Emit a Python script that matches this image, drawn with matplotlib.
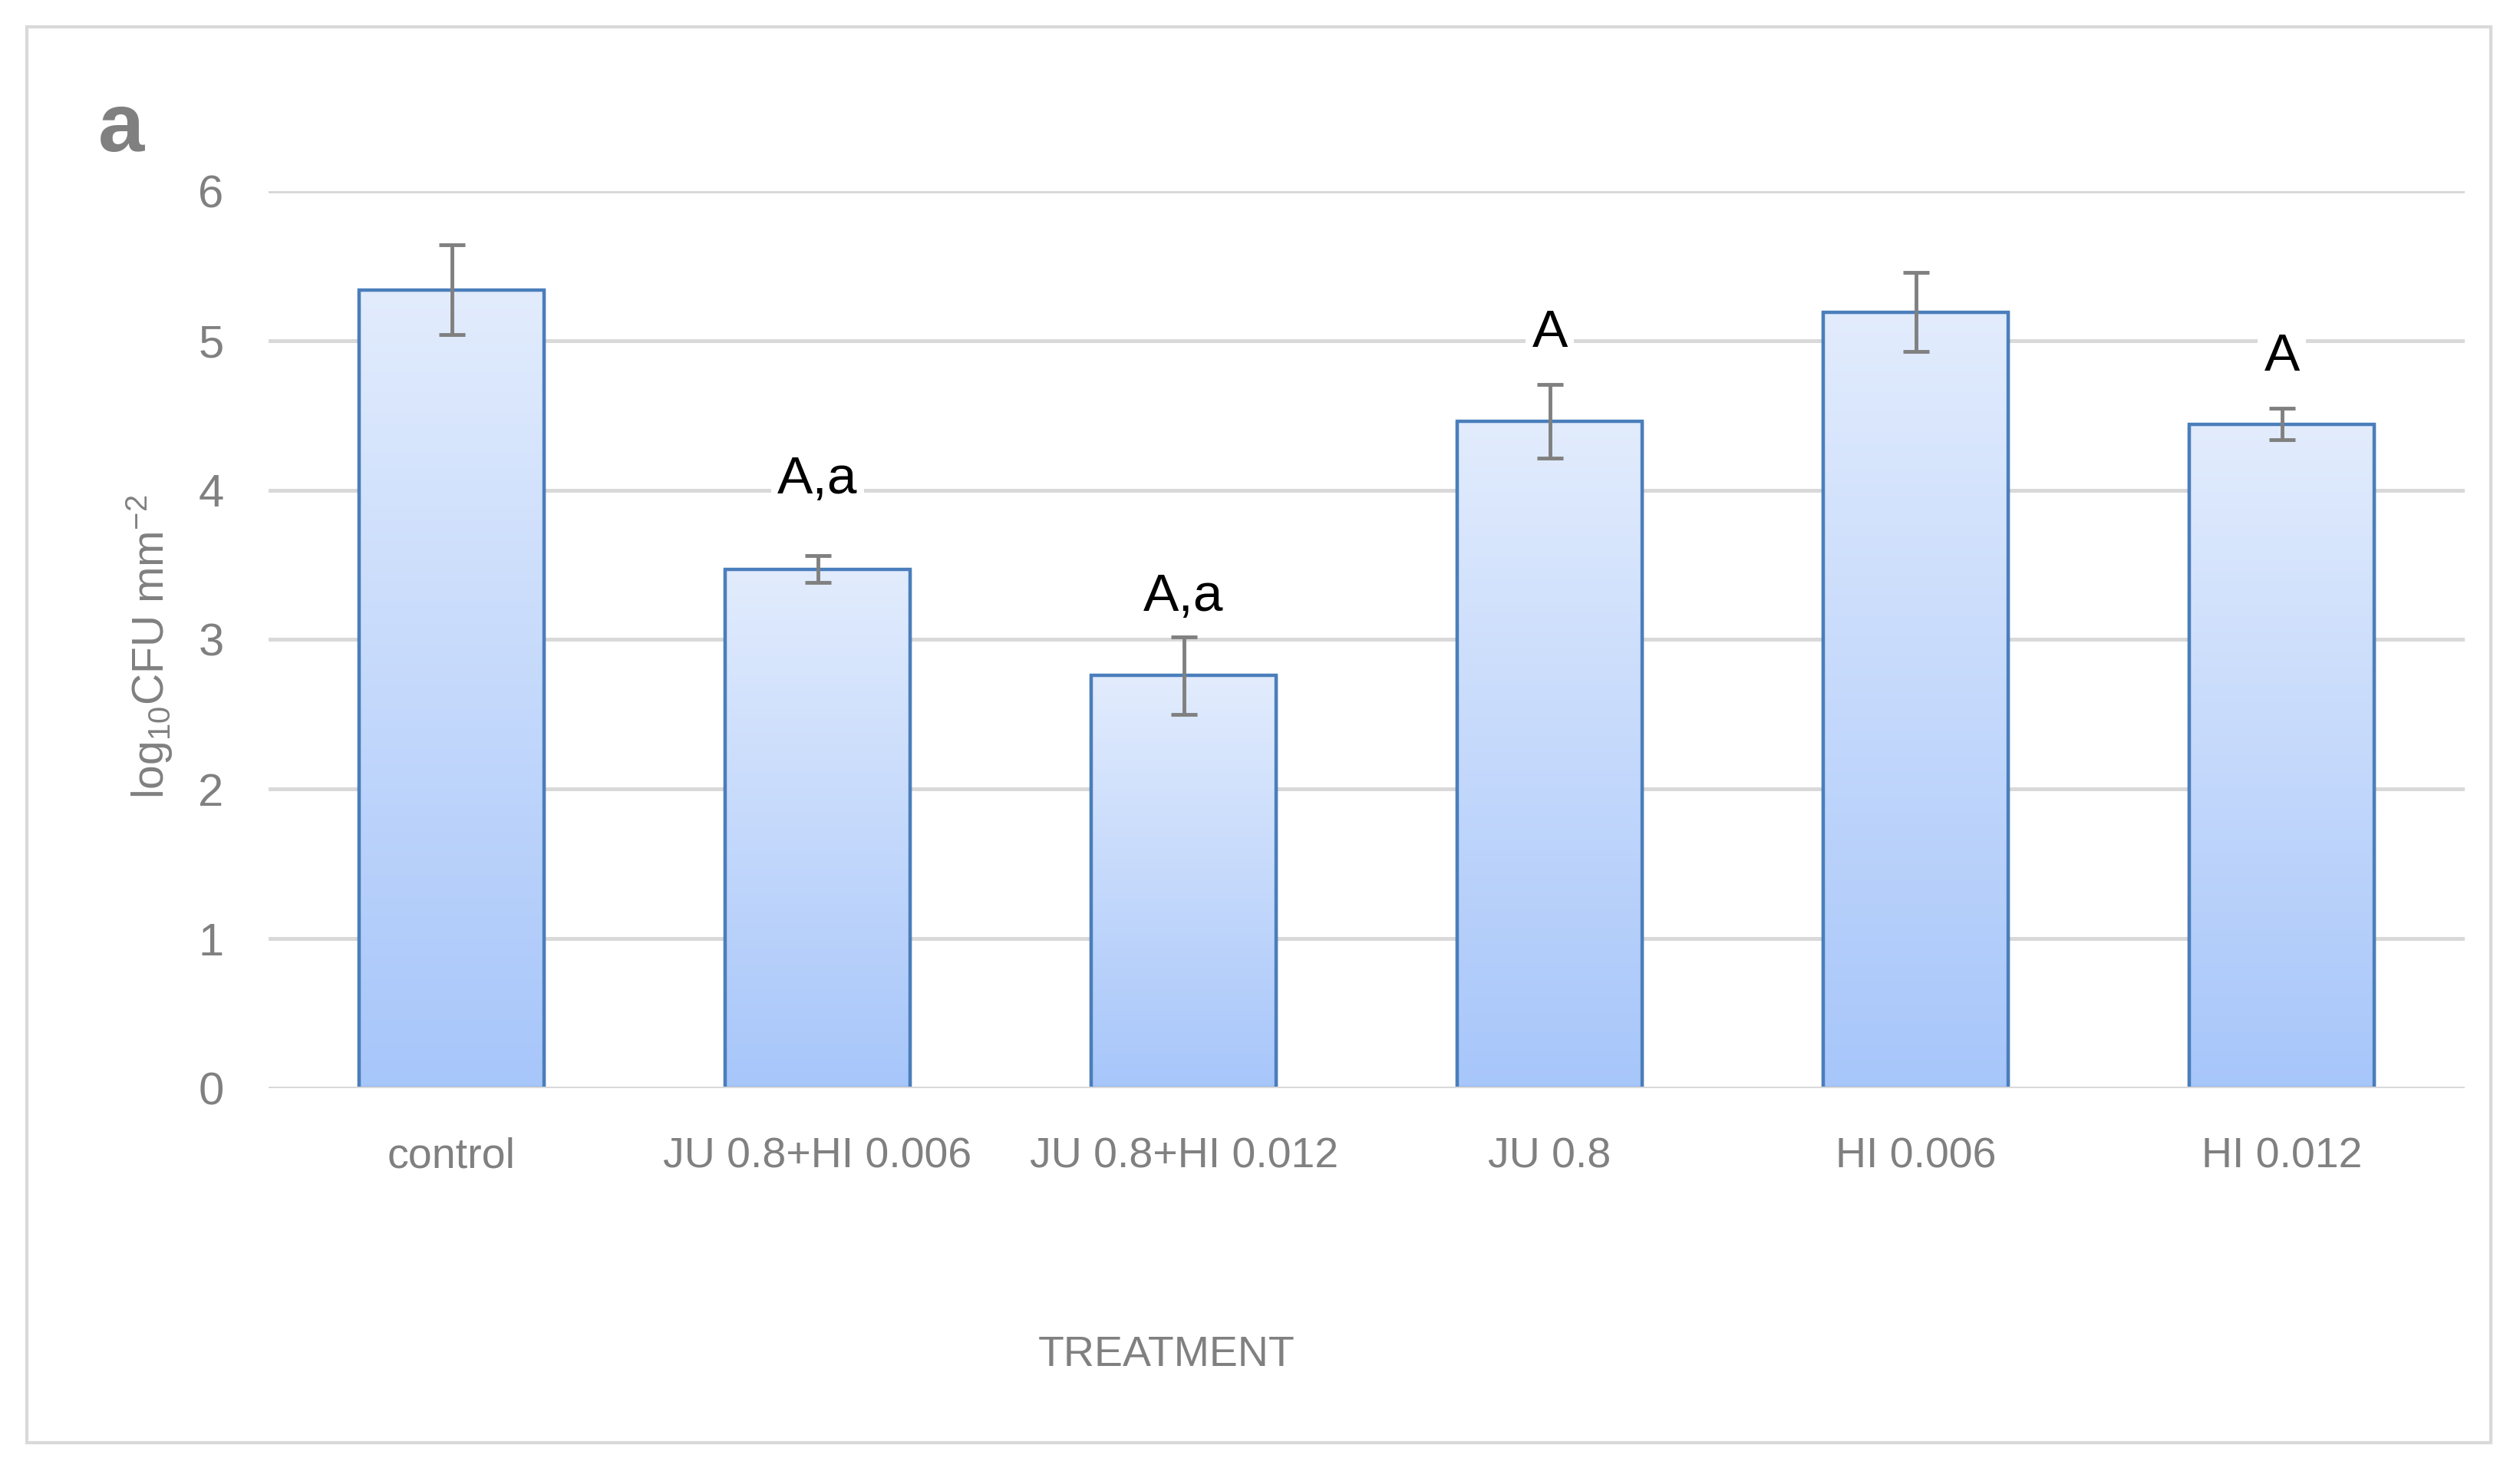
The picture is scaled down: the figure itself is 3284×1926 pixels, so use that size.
import numpy as np
import matplotlib
matplotlib.use('Agg')
import matplotlib.pyplot as plt
from matplotlib.patches import Rectangle

plt.rcParams['font.family'] = ['Liberation Sans Narrow', 'Liberation Sans', 'DejaVu Sans']
plt.rcParams['mathtext.default'] = 'regular'

# data
treatments = ['control', 'JU 0.8+HI 0.006', 'JU 0.8+HI 0.012', 'JU 0.8', 'HI 0.006', 'HI 0.012']
means = [5.34, 3.47, 2.76, 4.46, 5.19, 4.44]
errors = [0.30, 0.09, 0.26, 0.245, 0.265, 0.105]
letters = ['', 'A,a', 'A,a', 'A', '', 'A']
letter_y = [0, 3.98, 3.19, 4.96, 0, 4.80]

grey = '#808080'
grid_col = '#D9D9D9'
edge_col = '#4A7EBB'

fig = plt.figure(figsize=(32.84, 19.26), dpi=100)
ax = fig.add_axes([0.1066, 0.2638, 0.8715, 0.6069])

x = np.arange(len(treatments))
bars = ax.bar(x, means, width=0.505, facecolor='none', edgecolor=edge_col,
              linewidth=3.2, zorder=3)

# gradient fill inside each bar (light on top, darker at base)
top = np.array([0.886, 0.925, 0.992])
bottom = np.array([0.655, 0.776, 0.980])
grad = np.linspace(0, 1, 256)[:, None, None] * (bottom - top) + top
for b in bars:
    x0 = b.get_x()
    w = b.get_width()
    # soft shadow around the bar
    ax.add_patch(Rectangle((x0 - 0.006, -0.03), w + 0.012, b.get_height() + 0.03,
                           facecolor='#000000', alpha=0.07, edgecolor='none', zorder=2.2))
    ax.imshow(grad, extent=(x0, x0 + w, 0, b.get_height()),
              aspect='auto', origin='upper', zorder=2.5, interpolation='bilinear')

ax.errorbar(x, means, yerr=errors, fmt='none', ecolor=grey, elinewidth=3.5,
            capsize=12, capthick=3.5, zorder=4)

for i, t in enumerate(letters):
    if t:
        ax.text(x[i], letter_y[i], t, ha='center', va='baseline', fontsize=50,
                color='black', zorder=5,
                bbox=dict(facecolor='white', edgecolor='none', pad=6))

ax.set_xlim(-0.5, len(treatments) - 0.5)
ax.set_ylim(0, 6)
ax.set_yticks(range(7))
ax.set_xticks(x)
ax.set_xticklabels(treatments)
ax.tick_params(axis='both', length=0, colors=grey, labelsize=43)
ax.tick_params(axis='x', labelsize=40, pad=46)
ax.tick_params(axis='y', pad=42)
ax.yaxis.grid(True, color=grid_col, linewidth=3.6, zorder=0)
ax.set_axisbelow(True)
ax.axhline(0, color=grid_col, linewidth=3.6, zorder=3.5)
for s in ax.spines.values():
    s.set_visible(False)

fig.text(1520 / 3284, 1 - 1766 / 1926, 'TREATMENT', ha='center', va='center',
         fontsize=40, color=grey)
fig.text(195 / 3284, 1 - 843 / 1926, 'log$_{10}$CFU mm$^{-2}$', ha='center',
         va='center', rotation=90, fontsize=41, color=grey)
fig.text(128 / 3284, 1 - 197 / 1926, 'a', ha='left', va='baseline', fontsize=78,
         fontweight='bold', color=grey)

fig.patches.append(Rectangle((35 / 3284, 1 - 1880 / 1926), (3246 - 35) / 3284,
                             (1880 - 35) / 1926, transform=fig.transFigure,
                             fill=False, edgecolor=grid_col, linewidth=3))

fig.savefig('out.png', dpi=100, facecolor='white')
